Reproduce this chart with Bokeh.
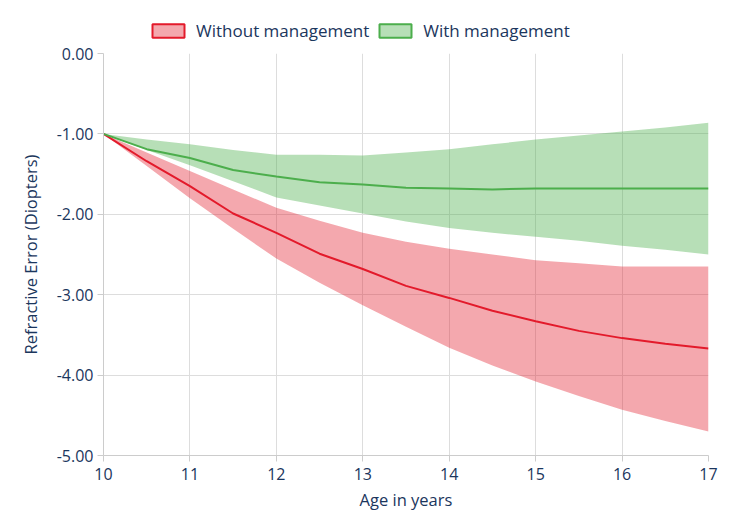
from bokeh.plotting import figure
from bokeh.layouts import column
from bokeh.models import Legend, LegendItem, NumeralTickFormatter, FixedTicker, Range1d
from bokeh.embed import file_html
from bokeh.resources import INLINE

age = [10, 10.5, 11, 11.5, 12, 12.5, 13, 13.5, 14, 14.5, 15, 15.5, 16, 16.5, 17]

without_mean = [-1.00, -1.34, -1.65, -1.99, -2.23, -2.49, -2.68, -2.89, -3.04, -3.20, -3.33, -3.45, -3.54, -3.61, -3.67]
without_upper = [-1.00, -1.23, -1.46, -1.69, -1.92, -2.08, -2.23, -2.34, -2.43, -2.50, -2.57, -2.61, -2.65, -2.65, -2.65]
without_lower = [-1.00, -1.40, -1.80, -2.18, -2.55, -2.85, -3.13, -3.40, -3.66, -3.88, -4.08, -4.26, -4.43, -4.57, -4.70]

with_mean = [-1.00, -1.19, -1.30, -1.45, -1.53, -1.60, -1.63, -1.67, -1.68, -1.69, -1.68, -1.68, -1.68, -1.68, -1.68]
with_upper = [-1.00, -1.07, -1.13, -1.20, -1.26, -1.26, -1.27, -1.23, -1.19, -1.13, -1.07, -1.02, -0.97, -0.92, -0.86]
with_lower = [-1.00, -1.20, -1.39, -1.59, -1.79, -1.89, -1.99, -2.09, -2.17, -2.23, -2.28, -2.33, -2.39, -2.44, -2.50]

x_ticks = [10, 11, 12, 13, 14, 15, 16, 17]
y_ticks = [0, -1, -2, -3, -4, -5]
series_names = ["Without management", "With management"]

RED = "#e31a2b"
GREEN = "#4cae4c"
TEXT = "#1b365d"
FONT = "Open Sans"

# ---- legend strip (separate small figure above the chart) ----
lg = figure(width=725, height=43, output_backend="svg", toolbar_location=None,
            x_range=Range1d(0, 1), y_range=Range1d(0, 1),
            x_axis_location=None, y_axis_location=None,
            min_border_left=0, min_border_right=0, min_border_top=0, min_border_bottom=0)
lg.outline_line_color = None
lg.grid.visible = False
sw1 = lg.quad(left=[0], right=[0], top=[0], bottom=[0], fill_color=RED, fill_alpha=0.38,
              line_color=RED, line_width=2, visible=False)
sw2 = lg.quad(left=[0], right=[0], top=[0], bottom=[0], fill_color=GREEN, fill_alpha=0.4,
              line_color=GREEN, line_width=2, visible=False)
legend = Legend(items=[LegendItem(label=series_names[0], renderers=[sw1]),
                       LegendItem(label=series_names[1], renderers=[sw2])],
                orientation="horizontal", location=(45, 1),
                glyph_width=40, glyph_height=17, label_standoff=8, spacing=6,
                padding=0, margin=0, border_line_color=None, background_fill_alpha=0,
                inactive_fill_alpha=0,
                label_text_font=FONT, label_text_font_size="17px", label_text_color=TEXT,
                label_text_line_height=1.0,
                label_height=17, click_policy="none")
lg.add_layout(legend, "center")

# ---- main chart ----
p = figure(width=725, height=472, output_backend="svg", toolbar_location=None,
           x_range=Range1d(10, 17), y_range=Range1d(-5, 0),
           min_border_left=103, min_border_right=17, min_border_top=10, min_border_bottom=60)
p.outline_line_color = None

p.varea(x=age, y1=without_lower, y2=without_upper, fill_color=RED, fill_alpha=0.38)
p.varea(x=age, y1=with_lower, y2=with_upper, fill_color=GREEN, fill_alpha=0.4)
p.line(x=age, y=without_mean, line_color=RED, line_width=2)
p.line(x=age, y=with_mean, line_color=GREEN, line_width=2)

p.xaxis.ticker = FixedTicker(ticks=x_ticks)
p.yaxis.ticker = FixedTicker(ticks=y_ticks)
p.yaxis.formatter = NumeralTickFormatter(format="0.00")

for ax in (p.xaxis, p.yaxis):
    ax.major_label_text_font = FONT
    ax.major_label_text_font_size = "16px"
    ax.major_label_text_color = TEXT
    ax.axis_label_text_font = FONT
    ax.axis_label_text_font_size = "16.5px"
    ax.axis_label_text_color = TEXT
    ax.axis_label_text_font_style = "normal"
    ax.minor_tick_line_color = None
    ax.major_tick_in = 0

p.xaxis.axis_label = "Age in years"
p.yaxis.axis_label = "Refractive Error (Diopters)"
p.xaxis.axis_line_color = "#cccccc"
p.xaxis.major_tick_line_color = "#cccccc"
p.xaxis.major_tick_out = 6
p.yaxis.axis_line_color = "#cccccc"
p.yaxis.major_tick_line_color = "#cccccc"
p.yaxis.major_tick_out = 6
p.xaxis.major_label_standoff = 6
p.yaxis.major_label_standoff = 4
p.xaxis.axis_label_standoff = 5
p.yaxis.axis_label_standoff = 12

p.xgrid.grid_line_color = "#dddddd"
p.ygrid.grid_line_color = "#dddddd"

layout = column(lg, p, spacing=0)
open("out.html", "w").write(file_html(layout, INLINE))
